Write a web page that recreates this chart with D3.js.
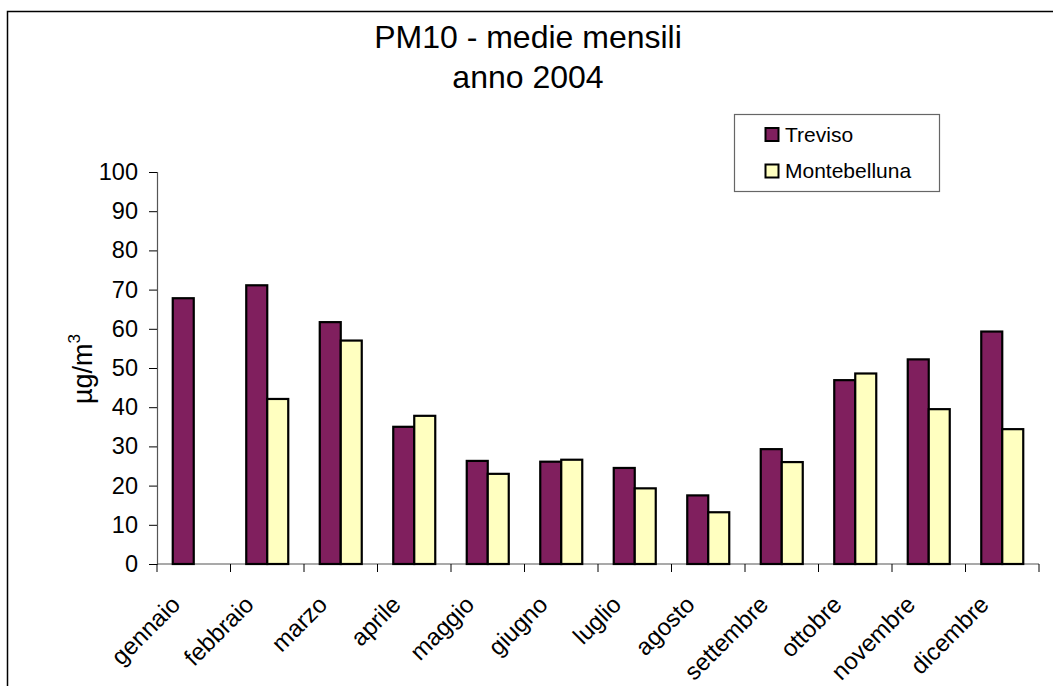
<!DOCTYPE html>
<html>
<head>
<meta charset="utf-8">
<script src="https://cdn.jsdelivr.net/npm/d3@7"></script>
<style>
  html, body { margin: 0; padding: 0; background: #fff; }
  svg { display: block; font-family: Arial, "Liberation Sans", sans-serif; }
</style>
</head>
<body>
<svg id="chart" width="1053" height="686"></svg>
<script>
// Monthly PM10 averages, 2004
const months = ["gennaio", "febbraio", "marzo", "aprile", "maggio", "giugno",
                "luglio", "agosto", "settembre", "ottobre", "novembre", "dicembre"];
const treviso      = [67.8, 71.1, 61.7, 35.0, 26.3, 26.1, 24.5, 17.5, 29.3, 46.9, 52.2, 59.3];
const montebelluna = [null, 42.1, 57.0, 37.8, 23.0, 26.6, 19.3, 13.2, 26.0, 48.6, 39.5, 34.4];
const seriesNames  = ["Treviso", "Montebelluna"];
const seriesColors = ["#801F5E", "#FFFFC0"];
const yTicks = [0, 10, 20, 30, 40, 50, 60, 70, 80, 90, 100];

const svg = d3.select("#chart");

// outer chart frame (runs off the right and bottom edges)
svg.append("rect")
  .attr("x", 7.5).attr("y", 11.5)
  .attr("width", 1100).attr("height", 720)
  .attr("fill", "#fff").attr("stroke", "#000").attr("stroke-width", 1.5);

const plot = { left: 157, right: 1039, top: 172, bottom: 564 };

const x = d3.scaleBand().domain(months).range([plot.left, plot.right]).paddingInner(0).paddingOuter(0);
const bw = x.bandwidth() / 3.5;  // two bars, gap of 1.5 bar widths
const xSeries = d3.scaleBand().domain(seriesNames)
  .range([x.bandwidth() * 0.75 / 3.5, x.bandwidth() * 0.75 / 3.5 + 2 * bw]);
const y = d3.scaleLinear().domain([0, 100]).range([plot.bottom, plot.top]);

// title
const title = svg.append("text")
  .attr("x", 528).attr("text-anchor", "middle")
  .attr("font-size", 32).attr("fill", "#000");
title.append("tspan").attr("x", 528).attr("y", 48).text("PM10 - medie mensili");
title.append("tspan").attr("x", 528).attr("y", 88).text("anno 2004");

// y axis
const yAxis = svg.append("g")
  .attr("transform", `translate(${plot.left},0)`)
  .call(d3.axisLeft(y).tickValues(yTicks).tickSize(8).tickPadding(11));
yAxis.select(".domain").attr("stroke", "#555").attr("stroke-width", 1.2);
yAxis.selectAll(".tick line").attr("stroke", "#000");
yAxis.selectAll(".tick text").attr("font-size", 23.5).attr("fill", "#000")
  .attr("font-family", "Arial, 'Liberation Sans', sans-serif");

// y axis title: µg/m³
const yTitle = svg.append("text")
  .attr("transform", "translate(92,369) rotate(-90)")
  .attr("text-anchor", "middle")
  .attr("font-size", 27).attr("fill", "#000");
yTitle.append("tspan").text("\u00B5g/m");
yTitle.append("tspan").attr("font-size", 17).attr("dy", -12).text("3");

// x axis with ticks between categories
const xAxis = svg.append("g")
  .attr("transform", `translate(0,${plot.bottom})`);
xAxis.append("line")
  .attr("x1", plot.left).attr("x2", plot.right)
  .attr("stroke", "#555").attr("stroke-width", 1.2);
const boundaries = months.map(m => x(m)).concat([x(months[months.length - 1]) + x.bandwidth()]);
xAxis.selectAll("line.tick").data(boundaries).join("line")
  .attr("class", "tick")
  .attr("x1", d => d).attr("x2", d => d)
  .attr("y1", 0).attr("y2", 8)
  .attr("stroke", "#000");

// category labels, rotated
svg.append("g").selectAll("text").data(months).join("text")
  .attr("transform", d => `translate(${x(d) + x.bandwidth() / 2 - 12},${plot.bottom + 42}) rotate(-45)`)
  .attr("text-anchor", "end")
  .attr("font-size", 24).attr("fill", "#000")
  .text(d => d);

// bars
const rows = [treviso, montebelluna];
rows.forEach((vals, si) => {
  svg.append("g").selectAll("rect")
    .data(months.map((m, i) => ({ m, v: vals[i] })).filter(d => d.v != null))
    .join("rect")
    .attr("x", d => x(d.m) + xSeries(seriesNames[si]))
    .attr("y", d => y(d.v))
    .attr("width", bw)
    .attr("height", d => y(0) - y(d.v))
    .attr("fill", seriesColors[si])
    .attr("stroke", "#000").attr("stroke-width", 2.2);
});

// legend
const legend = svg.append("g");
legend.append("rect")
  .attr("x", 734.5).attr("y", 114.5).attr("width", 205).attr("height", 77)
  .attr("fill", "#fff").attr("stroke", "#666").attr("stroke-width", 1.2);
const legendRows = [{ name: seriesNames[0], c: seriesColors[0], y: 141.5 },
                    { name: seriesNames[1], c: seriesColors[1], y: 178 }];
legendRows.forEach(r => {
  legend.append("rect")
    .attr("x", 765.5).attr("y", r.y - 13.5).attr("width", 13).attr("height", 13)
    .attr("fill", r.c).attr("stroke", "#000").attr("stroke-width", 2);
  legend.append("text")
    .attr("x", 785).attr("y", r.y)
    .attr("font-size", 21).attr("fill", "#000")
    .text(r.name);
});
</script>
</body>
</html>
